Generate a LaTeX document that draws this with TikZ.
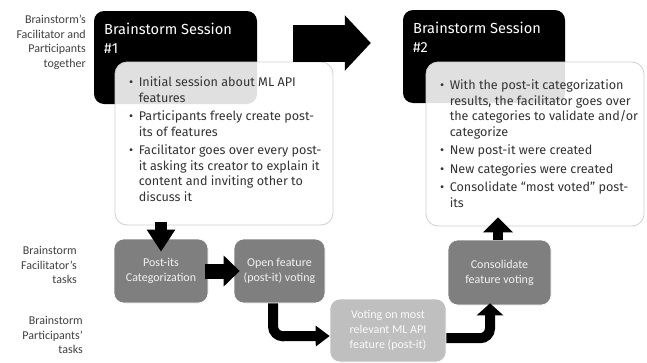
\documentclass[tikz,border=0pt]{standalone}
\usepackage{fontspec}
\setmainfont{Fira Sans}
\newfontfamily\carl{Carlito}
\usetikzlibrary{arrows.meta,calc}
\definecolor{boxgray}{HTML}{7F7F7F}
\definecolor{lightbox}{HTML}{BFBFBF}
\definecolor{txtdark}{HTML}{333333}
\definecolor{lbl}{HTML}{404040}
\definecolor{wborder}{HTML}{D0D0D0}
\tikzset{
  blackbox/.style={fill=black, draw=none, rounded corners=10pt},
  whitebox/.style={fill=white, fill opacity=0.88, draw=wborder, line width=0.8pt, rounded corners=12pt},
  title/.style={anchor=north west, inner sep=0pt, text=white, align=left, font=\fontsize{14.6}{18.5}\selectfont},
  bullets/.style={anchor=north west, inner sep=0pt, text=txtdark, font=\fontsize{12.6}{15.5}\selectfont},
  taskbox/.style={fill=boxgray, draw=white, line width=0.6pt, rounded corners=10pt, align=center, text=white!90!boxgray, font=\carl\fontsize{12}{15}\selectfont},
  partbox/.style={fill=lightbox, draw=white, line width=0.6pt, rounded corners=10pt, align=center, text=white!92!lightbox, font=\carl\fontsize{12}{15}\selectfont},
  sidelabel/.style={anchor=east, inner sep=0pt, align=right, text=lbl, font=\carl\fontsize{12}{14.5}\selectfont},
  fatarrow/.style={draw=black, line cap=butt}
}
\begin{document}
\begin{tikzpicture}[x=1pt,y=-1pt]
\useasboundingbox (0,0) rectangle (647,362);
% black session boxes
\node[blackbox, minimum width=163pt, minimum height=93pt] (b1) at (175.5,57.5) {};
\node[blackbox, minimum width=162pt, minimum height=93pt] (b2) at (484,56.5) {};
\node[title] (t1) at (104,23) {Brainstorm Session\\\#1};
\node[title] (t2) at (413,22) {Brainstorm Session\\\#2};
% white boxes
\node[whitebox, minimum width=218pt, minimum height=163pt] (w1) at (224,143.5) {};
\node[whitebox, minimum width=218pt, minimum height=164pt] (w2) at (535,144) {};
\node[bullets] (l1) at (129,75.5) {\begin{tabular}{@{}l@{\hspace{5.5pt}}l@{}}
•&Initial session about ML API\\
&features\\[3pt]
•&Participants freely create post-\\
&its of features\\[3pt]
•&Facilitator goes over every post-\\
&it asking its creator to explain it\\
&content and inviting other to\\
&discuss it
\end{tabular}};
\node[bullets] (l2) at (440,78.5) {\begin{tabular}{@{}l@{\hspace{5.5pt}}l@{}}
•&With the post-it categorization\\
&results, the facilitator goes over\\
&the categories to validate and/or\\
&categorize\\[3pt]
•&New post-it were created\\[3pt]
•&New categories were created\\[3pt]
•&Consolidate “most voted” post-\\
&its
\end{tabular}};
% big arrow between sessions
\coordinate (ba1) at ($(b1.east)+(36,-14.5)$);
\coordinate (ba2) at ($(b2.west)+(-32,-13.5)$);
\draw[fatarrow, line width=37pt, -{Triangle[length=26pt,width=54pt]}] (ba1) -- (ba2);
% task boxes
\node[taskbox, minimum width=94pt, minimum height=64pt] (pc) at (161,271) {Post-its\\Categorization};
\node[taskbox, minimum width=91pt, minimum height=64pt] (ov) at (279.5,271) {Open feature\\(post-it) voting};
\node[taskbox, minimum width=103pt, minimum height=65pt] (cv) at (499.5,272.5) {Consolidate\\feature voting};
\node[partbox, minimum width=116pt, minimum height=63pt] (vm) at (388,330.5) {Voting on most\\relevant ML API\\feature (post-it)};
% side labels
\node[sidelabel] (s1) at (86,42.5) {Brainstorm’s\\Facilitator and\\Participants\\together};
\node[sidelabel] (s2) at (77,265) {Brainstorm\\Facilitator’s\\tasks};
\node[sidelabel] (s3) at (83,335) {Brainstorm\\Participants’\\tasks};
% arrows
\draw[fatarrow, line width=12pt, -{Triangle[length=22pt,width=27pt]}]
  ($(pc.north |- w1.south)+(0,-3)$) -- ($(pc.north)+(0,13)$);
\draw[fatarrow, line width=15pt, -{Triangle[length=16pt,width=30pt]}]
  ($(pc.east)+(-3,0)$) -- ($(ov.west)+(6,0)$);
\draw[fatarrow, line width=10pt, rounded corners=10pt, -{Triangle[length=14pt,width=20pt]}]
  ($(ov.south)+(-6.5,0)$) -- ($(ov.south)+(-6.5,33)$) -- ($(vm.west)+(0,5.5)$);
\draw[fatarrow, line width=10pt, rounded corners=10pt, -{Triangle[length=12pt,width=26pt]}]
  ($(vm.east)+(0,7.5)$) -- ($(cv.south)+(-9.5,33)$) -- ($(cv.south)+(-9.5,-2)$);
\draw[fatarrow, line width=10pt, -{Triangle[length=15pt,width=29pt]}]
  ($(cv.north)+(-1.5,0)$) -- ($(cv.north |- w2.south)+(-1.5,-9)$);
\end{tikzpicture}
\end{document}
